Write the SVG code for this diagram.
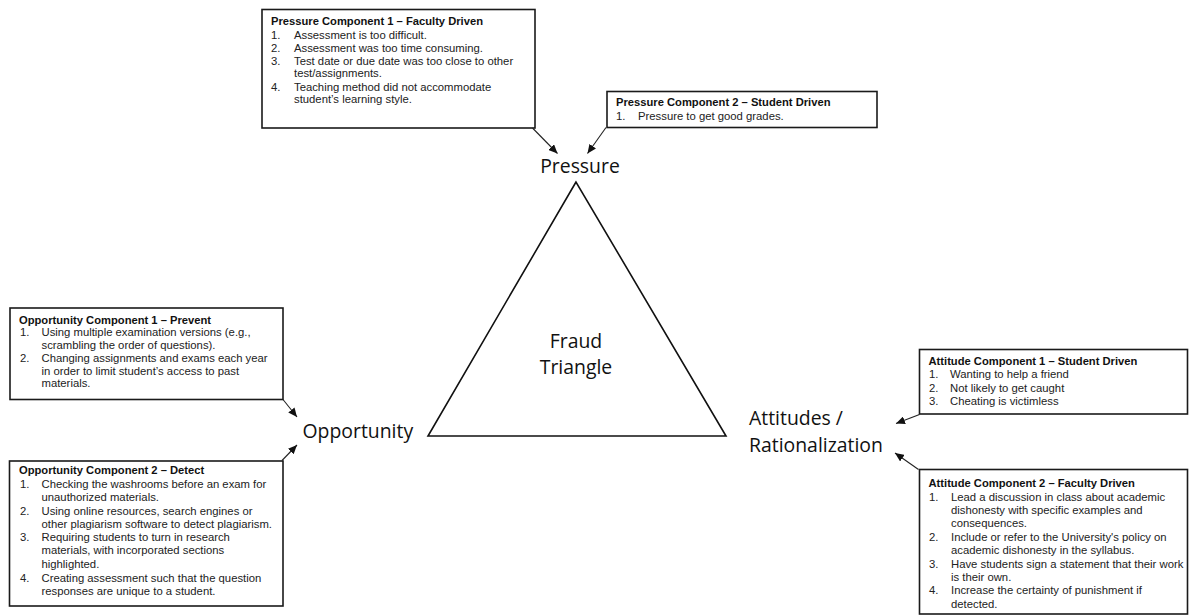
<svg xmlns="http://www.w3.org/2000/svg" width="1192" height="615" viewBox="0 0 1192 615">
<defs>
<marker id="ah" markerUnits="userSpaceOnUse" markerWidth="10" markerHeight="8" refX="9" refY="4" orient="auto">
<path d="M0,0 L9,4 L0,8 Z" fill="#111"/>
</marker>
<style>
.box{fill:#fff;stroke:#1a1a1a;stroke-width:1.6}
.t{font-family:"Liberation Sans",Arial,sans-serif;font-size:11.3px;fill:#222}
.b{font-weight:bold;fill:#111;font-size:11.2px}
.big{font-family:"Open Sans","Noto Sans",sans-serif;font-size:19.4px;fill:#111}
.c{stroke:#222;stroke-width:1.1;fill:none;marker-end:url(#ah)}
</style>
</defs>
<rect width="1192" height="615" fill="#fff"/>

<g id="triangle">
<polygon points="576,182 428,436 726,436" fill="none" stroke="#111" stroke-width="1.6"/>
<text class="big" x="576" y="347.5" text-anchor="middle">Fraud</text>
<text class="big" x="576" y="374" text-anchor="middle">Triangle</text>
</g>

<g id="pressure">
<text class="big" x="580" y="173.3" text-anchor="middle">Pressure</text>
</g>
<g id="opportunity">
<text class="big" x="302.5" y="438.3">Opportunity</text>
</g>
<g id="attitudes">
<text class="big" x="749" y="425">Attitudes /</text>
<text class="big" x="749" y="451.7">Rationalization</text>
</g>

<g id="pressure-c1">
<rect class="box" x="262" y="9.5" width="273" height="118.5"/>
<text class="t b" x="271" y="24.5">Pressure Component 1 – Faculty Driven</text>
<text class="t" x="271" y="38.5">1.</text><text class="t" x="294" y="38.5">Assessment is too difficult.</text>
<text class="t" x="271" y="51.5">2.</text><text class="t" x="294" y="51.5">Assessment was too time consuming.</text>
<text class="t" x="271" y="64.5">3.</text><text class="t" x="294" y="64.5">Test date or due date was too close to other</text>
<text class="t" x="294" y="77">test/assignments.</text>
<text class="t" x="271" y="90.5">4.</text><text class="t" x="294" y="90.5">Teaching method did not accommodate</text>
<text class="t" x="294" y="103">student’s learning style.</text>
</g>

<g id="pressure-c2">
<rect class="box" x="607" y="91.5" width="270" height="36"/>
<text class="t b" x="616" y="106">Pressure Component 2 – Student Driven</text>
<text class="t" x="616" y="119.5">1.</text><text class="t" x="638" y="119.5">Pressure to get good grades.</text>
</g>

<g id="opportunity-c1">
<rect class="box" x="10" y="308" width="273" height="91.5"/>
<text class="t b" x="19" y="323.5">Opportunity Component 1 – Prevent</text>
<text class="t" x="20" y="336">1.</text><text class="t" x="41.5" y="336">Using multiple examination versions (e.g.,</text>
<text class="t" x="41.5" y="349">scrambling the order of questions).</text>
<text class="t" x="20" y="362">2.</text><text class="t" x="41.5" y="362">Changing assignments and exams each year</text>
<text class="t" x="41.5" y="374.5">in order to limit student’s access to past</text>
<text class="t" x="41.5" y="387">materials.</text>
</g>

<g id="opportunity-c2">
<rect class="box" x="9.5" y="461" width="273.5" height="145"/>
<text class="t b" x="19" y="473.5">Opportunity Component 2 – Detect</text>
<text class="t" x="20" y="487.5">1.</text><text class="t" x="41.5" y="487.5">Checking the washrooms before an exam for</text>
<text class="t" x="41.5" y="500.5">unauthorized materials.</text>
<text class="t" x="20" y="514.5">2.</text><text class="t" x="41.5" y="514.5">Using online resources, search engines or</text>
<text class="t" x="41.5" y="527.5">other plagiarism software to detect plagiarism.</text>
<text class="t" x="20" y="541">3.</text><text class="t" x="41.5" y="541">Requiring students to turn in research</text>
<text class="t" x="41.5" y="554">materials, with incorporated sections</text>
<text class="t" x="41.5" y="567.5">highlighted.</text>
<text class="t" x="20" y="582">4.</text><text class="t" x="41.5" y="582">Creating assessment such that the question</text>
<text class="t" x="41.5" y="595">responses are unique to a student.</text>
</g>

<g id="attitude-c1">
<rect class="box" x="919.5" y="349.5" width="268" height="64.5"/>
<text class="t b" x="928.5" y="365">Attitude Component 1 – Student Driven</text>
<text class="t" x="929" y="377.5">1.</text><text class="t" x="950" y="377.5">Wanting to help a friend</text>
<text class="t" x="929" y="391.5">2.</text><text class="t" x="950" y="391.5">Not likely to get caught</text>
<text class="t" x="929" y="405">3.</text><text class="t" x="950" y="405">Cheating is victimless</text>
</g>

<g id="attitude-c2">
<rect class="box" x="919.5" y="469.5" width="268" height="144.5"/>
<text class="t b" x="928.5" y="487">Attitude Component 2 – Faculty Driven</text>
<text class="t" x="929" y="500.5">1.</text><text class="t" x="951" y="500.5">Lead a discussion in class about academic</text>
<text class="t" x="951" y="514">dishonesty with specific examples and</text>
<text class="t" x="951" y="527">consequences.</text>
<text class="t" x="929" y="540.5">2.</text><text class="t" x="951" y="540.5">Include or refer to the University's policy on</text>
<text class="t" x="951" y="554">academic dishonesty in the syllabus.</text>
<text class="t" x="929" y="567.5">3.</text><text class="t" x="951" y="567.5">Have students sign a statement that their work</text>
<text class="t" x="951" y="581">is their own.</text>
<text class="t" x="929" y="594">4.</text><text class="t" x="951" y="594">Increase the certainty of punishment if</text>
<text class="t" x="951" y="607.5">detected.</text>
</g>

<g id="connectors">
<line class="c" x1="532.5" y1="128" x2="557.5" y2="153.5"/>
<line class="c" x1="606" y1="127.5" x2="587.5" y2="153.5"/>
<line class="c" x1="283" y1="399.5" x2="297" y2="417"/>
<line class="c" x1="282" y1="460.5" x2="297" y2="445"/>
<line class="c" x1="919.5" y1="414.5" x2="896" y2="423.5"/>
<line class="c" x1="918.5" y1="469.5" x2="895" y2="453"/>
</g>
</svg>
